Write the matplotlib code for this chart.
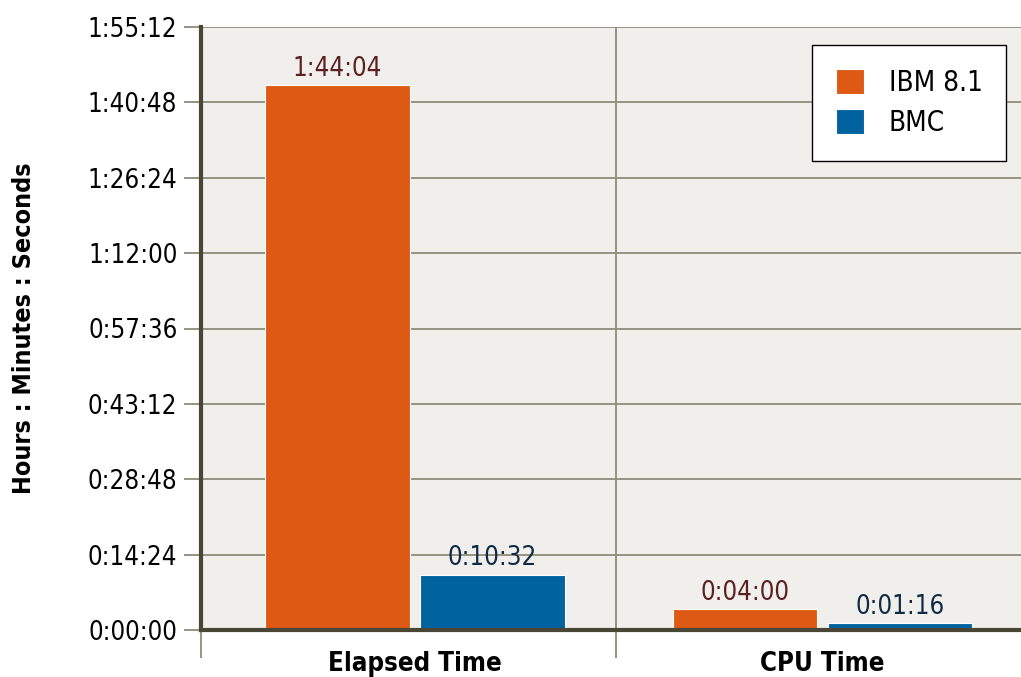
import matplotlib.pyplot as plt
from matplotlib.ticker import FixedLocator

# data (seconds)
categories = ["Elapsed Time", "CPU Time"]
series = ["IBM 8.1", "BMC"]
ibm_vals = [6244, 240]      # 1:44:04, 0:04:00
bmc_vals = [632, 76]        # 0:10:32, 0:01:16
ytick_vals = [0, 864, 1728, 2592, 3456, 4320, 5184, 6048, 6912]

plt.rcParams['font.family'] = ['DejaVu Sans']
plt.rcParams['font.stretch'] = 'condensed'


def hms(s):
    s = int(round(s))
    return "%d:%02d:%02d" % (s // 3600, (s % 3600) // 60, s % 60)


orange = "#de5a14"
blue = "#0063a0"
grid_c = "#8e8c7a"
spine_c = "#4a4636"

fig = plt.figure(figsize=(10.21, 6.77), dpi=100)
ax = fig.add_axes([201 / 1021, 47 / 677, 820 / 1021, 603 / 677])
ax.set_facecolor("#f0efeb")

x = range(len(categories))
w = 0.355
off = 0.19
b1 = ax.bar([i - off for i in x], ibm_vals, w, color=orange, edgecolor="white", linewidth=0.8, label=series[0], zorder=3)
b2 = ax.bar([i + off for i in x], bmc_vals, w, color=blue, edgecolor="white", linewidth=0.8, label=series[1], zorder=3)

for r, v in zip(b1, ibm_vals):
    ax.text(r.get_x() + r.get_width() / 2, v + 40, hms(v), ha="center", va="bottom",
            fontsize=18.5, color="#5a1f1f", zorder=4)
for r, v in zip(b2, bmc_vals):
    ax.text(r.get_x() + r.get_width() / 2, v + 40, hms(v), ha="center", va="bottom",
            fontsize=18.5, color="#0e2a45", zorder=4)

ax.set_ylim(0, 6912)
ax.set_xlim(-0.525, 1.487)
ax.set_yticks(ytick_vals)
ax.set_yticklabels([hms(v) for v in ytick_vals], fontsize=18.5)
ax.tick_params(axis="y", length=12, width=1.3, color=grid_c, pad=5)
ax.yaxis.grid(True, color=grid_c, linewidth=1.3, zorder=0)

ax.set_xticks(list(x))
ax.set_xticklabels(categories, fontsize=18.5, fontweight="bold")
ax.tick_params(axis="x", which="major", length=0, pad=15)
ax.xaxis.set_minor_locator(FixedLocator([-0.525, 0.493]))
ax.tick_params(axis="x", which="minor", length=20, width=1.3, color=grid_c)
ax.xaxis.grid(True, which="minor", color=grid_c, linewidth=1.3, zorder=0)

for s in ["top", "right"]:
    ax.spines[s].set_visible(False)
for s in ["left", "bottom"]:
    ax.spines[s].set_color(spine_c)
    ax.spines[s].set_linewidth(3)
    ax.spines[s].set_zorder(5)

ax.set_ylabel("Hours : Minutes : Seconds", fontsize=18, fontweight="bold", labelpad=37)

leg = ax.legend(loc="upper right", bbox_to_anchor=(805 / 820, 585 / 603), fontsize=20,
                frameon=True, fancybox=False, edgecolor="black", facecolor="white",
                framealpha=1, handlelength=1.0, handleheight=1.0, borderpad=0.85,
                labelspacing=0.45, handletextpad=0.9, borderaxespad=0)
leg.get_frame().set_linewidth(1)
leg.set_zorder(6)

fig.savefig("out.png", dpi=100)
